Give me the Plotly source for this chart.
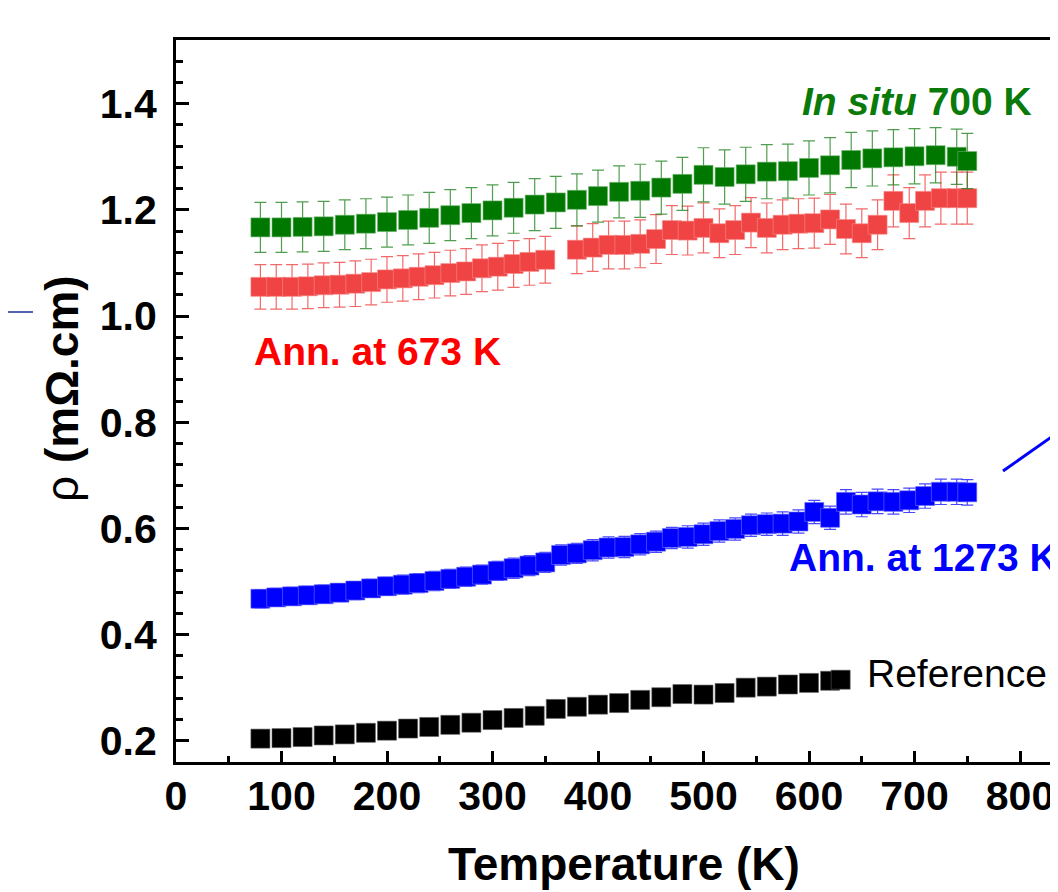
import plotly.graph_objects as go

# ---------------- data ----------------
green_T = [80, 100, 120, 140, 160, 180, 200, 220, 240, 260, 280, 300, 320, 340, 360, 380,
           400, 420, 440, 460, 480, 500, 520, 540, 560, 580, 600, 620, 640, 660, 680, 700,
           720, 740, 750]
green_rho = [1.167, 1.167, 1.168, 1.169, 1.172, 1.174, 1.177, 1.181, 1.185, 1.190, 1.194,
             1.199, 1.204, 1.210, 1.214, 1.219, 1.226, 1.234, 1.236, 1.242, 1.249, 1.266,
             1.262, 1.267, 1.272, 1.273, 1.279, 1.284, 1.294, 1.297, 1.299, 1.301, 1.303,
             1.300, 1.292]
green_err = [0.047, 0.047, 0.047, 0.047, 0.047, 0.047, 0.047, 0.047, 0.048, 0.048, 0.048,
             0.048, 0.048, 0.049, 0.049, 0.049, 0.049, 0.049, 0.050, 0.050, 0.050, 0.051,
             0.051, 0.051, 0.051, 0.051, 0.051, 0.052, 0.052, 0.052, 0.052, 0.052, 0.052,
             0.052, 0.052]

red_T = [80, 95, 110, 125, 140, 155, 170, 185, 200, 215, 230, 245, 260, 275, 290, 305, 320,
         335, 350, 380, 395, 410, 425, 440, 455, 470, 485, 500, 515, 530, 545, 560, 575,
         590, 605, 620, 635, 650, 665, 680, 695, 710, 725, 740, 750]
red_rho = [1.055, 1.055, 1.055, 1.056, 1.058, 1.059, 1.061, 1.064, 1.069, 1.071, 1.074,
           1.077, 1.081, 1.084, 1.090, 1.093, 1.098, 1.102, 1.106, 1.125, 1.129, 1.134,
           1.134, 1.136, 1.145, 1.162, 1.161, 1.166, 1.156, 1.162, 1.176, 1.166, 1.172,
           1.174, 1.175, 1.182, 1.164, 1.156, 1.172, 1.217, 1.194, 1.217, 1.222, 1.222,
           1.222]
red_err = [0.042, 0.042, 0.042, 0.042, 0.042, 0.042, 0.043, 0.043, 0.043, 0.043, 0.043,
           0.043, 0.043, 0.043, 0.044, 0.044, 0.044, 0.044, 0.044, 0.045, 0.045, 0.045,
           0.045, 0.045, 0.046, 0.046, 0.046, 0.047, 0.046, 0.046, 0.047, 0.047, 0.047,
           0.047, 0.047, 0.047, 0.047, 0.046, 0.047, 0.049, 0.048, 0.049, 0.049, 0.049,
           0.049]

blue_T = [80, 95, 110, 125, 140, 155, 170, 185, 200, 215, 230, 245, 260, 275, 290, 305,
          320, 335, 350, 365, 380, 395, 410, 425, 440, 455, 470, 485, 500, 515, 530, 545,
          560, 575, 590, 605, 620, 635, 650, 665, 680, 695, 710, 725, 740, 750]
blue_rho = [0.4675, 0.470, 0.472, 0.474, 0.476, 0.479, 0.483, 0.487, 0.491, 0.494, 0.497,
            0.501, 0.505, 0.509, 0.513, 0.520, 0.525, 0.530, 0.536, 0.550, 0.553, 0.559,
            0.564, 0.565, 0.570, 0.575, 0.582, 0.584, 0.589, 0.595, 0.599, 0.606, 0.608,
            0.609, 0.613, 0.631, 0.620, 0.650, 0.645, 0.651, 0.650, 0.653, 0.661, 0.669,
            0.669, 0.668]
blue_err = [0.017, 0.017, 0.017, 0.017, 0.017, 0.017, 0.017, 0.017, 0.017, 0.018, 0.018,
            0.018, 0.018, 0.018, 0.018, 0.018, 0.019, 0.019, 0.019, 0.019, 0.019, 0.020,
            0.020, 0.020, 0.020, 0.020, 0.020, 0.021, 0.021, 0.021, 0.021, 0.021, 0.021,
            0.022, 0.022, 0.022, 0.022, 0.023, 0.023, 0.023, 0.023, 0.023, 0.023, 0.024,
            0.024, 0.024]

black_T = [80, 100, 120, 140, 160, 180, 200, 220, 240, 260, 280, 300, 320, 340, 360, 380,
           400, 420, 440, 460, 480, 500, 520, 540, 560, 580, 600, 620, 630]
black_rho = [0.204, 0.205, 0.207, 0.210, 0.212, 0.215, 0.219, 0.223, 0.226, 0.230, 0.234,
             0.239, 0.243, 0.247, 0.260, 0.264, 0.268, 0.271, 0.277, 0.282, 0.288, 0.287,
             0.290, 0.300, 0.302, 0.306, 0.309, 0.313, 0.315]

x_ticks = [0, 100, 200, 300, 400, 500, 600, 700, 800]
y_ticks = [0.2, 0.4, 0.6, 0.8, 1.0, 1.2, 1.4]

label_green = "<i>In situ</i> 700 K"
label_red = "Ann. at 673 K"
label_blue = "Ann. at 1273 K"
label_black = "Reference"

# ---------------- figure ----------------
FONT = "Liberation Sans, Arial, Helvetica, sans-serif"
OFF = 8                      # default page (body) margin of the html page
W, H = 1058 - OFF, 892 - OFF
ML, MT, MR = 176 - OFF, 40 - OFF, 0
MB = H - (762 - OFF)
PW = W - ML - MR
PH = H - MB - MT


def px_to_paper_x(px):       # page pixel -> paper fraction
    return (px - OFF - ML) / PW


def px_to_paper_y(py):
    return (H - MB - (py - OFF)) / PH


fig = go.Figure()

fig.add_trace(go.Scatter(
    x=black_T, y=black_rho, mode="markers",
    marker=dict(symbol="square", size=19, color="#000000",
                line=dict(width=1, color="rgba(90,90,90,0.6)")),
    showlegend=False))

fig.add_trace(go.Scatter(
    x=blue_T, y=blue_rho, mode="markers",
    marker=dict(symbol="square", size=19, color="#0000ff",
                line=dict(width=1, color="rgba(110,110,255,0.6)")),
    error_y=dict(type="data", array=blue_err, color="rgba(40,40,255,0.85)",
                 thickness=1.2, width=6),
    showlegend=False))

fig.add_trace(go.Scatter(
    x=red_T, y=red_rho, mode="markers",
    marker=dict(symbol="square", size=19, color="#f04343",
                line=dict(width=1, color="rgba(250,140,140,0.6)")),
    error_y=dict(type="data", array=red_err, color="rgba(240,80,80,0.85)",
                 thickness=1.2, width=6),
    showlegend=False))

fig.add_trace(go.Scatter(
    x=green_T, y=green_rho, mode="markers",
    marker=dict(symbol="square", size=19, color="#007800",
                line=dict(width=1, color="rgba(110,180,110,0.6)")),
    error_y=dict(type="data", array=green_err, color="rgba(20,125,20,0.75)",
                 thickness=1.2, width=6),
    showlegend=False))

axis_common = dict(
    showgrid=False, zeroline=False, showline=True, linecolor="black", linewidth=3,
    ticks="inside", tickcolor="black", tickwidth=3,
    tickfont=dict(family=FONT, size=41, color="black", weight="bold"),
)

fig.update_xaxes(
    range=[0, 836], tickvals=x_ticks, ticklen=11, mirror=True,
    minor=dict(ticks="inside", dtick=50, ticklen=6, tickwidth=2.5, tickcolor="black"),
    ticklabelstandoff=-4,
    **axis_common)

fig.update_yaxes(
    range=[0.16, 1.52], tickvals=y_ticks, tickformat=".1f", ticklen=13,
    minor=dict(ticks="inside", dtick=0.04, ticklen=7, tickwidth=2.5, tickcolor="black"),
    ticklabelstandoff=8,
    **axis_common)

annotations = [
    dict(x=591, y=1.405, xref="x", yref="y", text="<b>" + label_green + "</b>",
         xanchor="left", yanchor="middle", showarrow=False,
         font=dict(family=FONT, size=39, color="#0a7a0a")),
    dict(x=72, y=0.934, xref="x", yref="y", text="<b>" + label_red + "</b>",
         xanchor="left", yanchor="middle", showarrow=False,
         font=dict(family=FONT, size=39, color="#ff0000")),
    dict(x=579, y=0.545, xref="x", yref="y", text="<b>" + label_blue + "</b>",
         xanchor="left", yanchor="middle", showarrow=False,
         font=dict(family=FONT, size=39, color="#0000ff")),
    dict(x=653, y=0.326, xref="x", yref="y", text=label_black,
         xanchor="left", yanchor="middle", showarrow=False,
         font=dict(family=FONT, size=39, color="#000000")),
    # axis titles
    dict(x=px_to_paper_x(624), y=0, xref="paper", yref="paper",
         text="<b>Temperature (K)</b>", xanchor="center", yanchor="top",
         yshift=-74, showarrow=False,
         font=dict(family=FONT, size=46, color="black")),
    dict(x=px_to_paper_x(62), y=px_to_paper_y(389),
         xref="paper", yref="paper", text="ρ <b>(mΩ.cm)</b>", textangle=-90,
         xanchor="center", yanchor="middle", showarrow=False,
         font=dict(family=FONT, size=46, color="black")),
]

shapes = [
    dict(type="line", xref="paper", yref="paper",
         x0=px_to_paper_x(0), x1=px_to_paper_x(33),
         y0=px_to_paper_y(312), y1=px_to_paper_y(312),
         line=dict(color="#1c2f9c", width=1.5)),
    dict(type="line", xref="paper", yref="paper",
         x0=px_to_paper_x(1003), x1=px_to_paper_x(1070),
         y0=px_to_paper_y(471), y1=px_to_paper_y(424),
         line=dict(color="#0000ff", width=3)),
]

fig.update_layout(
    width=W, height=H,
    margin=dict(l=ML, r=MR, t=MT, b=MB, pad=0),
    plot_bgcolor="white", paper_bgcolor="white",
    annotations=annotations, shapes=shapes,
    showlegend=False,
)

fig.write_html("out.html")
